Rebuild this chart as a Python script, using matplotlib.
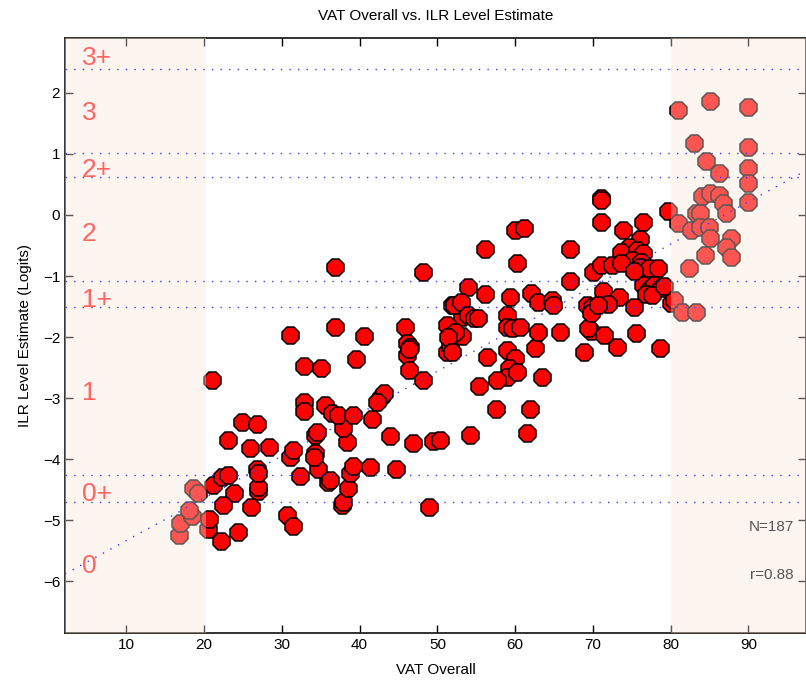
import numpy as np
import matplotlib
matplotlib.use('Agg')
import matplotlib.pyplot as plt

plt.rcParams['font.family'] = ['Liberation Sans Narrow', 'Liberation Sans', 'DejaVu Sans']

# VAT overall score vs ILR level estimate (logits)
vat_overall = [
    # below 20 (shaded)
    16.8, 16.9, 18.5, 18.0, 18.6, 19.2,
    # 20-30
    21.0, 21.2, 22.3, 23.1, 23.8, 22.5, 20.5, 20.6, 22.2, 24.4, 23.1, 24.9, 26.8,
    25.9, 28.4, 26.8, 27.0, 27.0, 26.1, 27.0,
    # 30-40
    30.7, 31.5, 31.1, 31.5, 34.3, 32.4, 34.7, 36.0, 36.2, 37.8, 37.9, 38.5, 38.8,
    39.1, 38.4, 37.9, 34.3, 34.5, 34.1, 32.8, 32.8, 35.6, 36.5, 37.2, 39.1, 32.9,
    35.0, 39.6, 31.1, 36.9, 36.9,
    # 40-50
    40.6, 42.7, 43.1, 42.3, 41.6, 43.9, 46.9, 49.4, 41.4, 44.7, 48.9, 45.9, 46.1,
    46.5, 46.1, 46.3, 48.1, 48.1, 46.4,
    # 50-60
    51.3, 51.6, 52.3, 53.2, 51.9, 53.2, 53.9, 52.1, 53.0, 53.9, 54.7, 55.2, 51.3,
    52.3, 51.4, 51.9, 56.4, 59.0, 60.0, 59.2, 59.0, 60.3, 57.7, 55.3, 57.5, 54.2,
    50.4, 56.1, 56.1, 59.4, 59.0, 59.0, 59.6, 60.6, 60.0, 60.2, 61.1,
    # 60-70
    61.9, 61.5, 63.5, 62.6, 63.0, 65.8, 62.1, 62.9, 64.7, 64.9, 67.0, 67.0, 69.3,
    69.7, 68.8, 69.4, 69.9, 69.7,
    # 70-80
    71.0, 71.0, 71.0, 73.9, 76.4, 79.7, 76.0, 74.6, 73.6, 75.7, 76.5, 75.0, 76.2,
    76.1, 77.2, 78.4, 70.0, 71.0, 72.5, 73.6, 71.3, 73.3, 75.3, 76.4, 77.2, 77.8,
    78.7, 76.8, 80.0, 71.4, 73.1, 75.5, 78.6, 75.3, 77.6, 79.2, 72.0, 70.6,
    # above 80 (shaded)
    81.0, 85.0, 89.9, 83.0, 89.9, 84.6, 86.2, 89.9, 89.9, 89.9, 84.0, 85.1, 86.2,
    86.7, 87.1, 83.2, 83.8, 81.0, 82.6, 83.8, 84.9, 85.1, 87.7, 87.1, 87.7, 84.4,
    82.3, 80.4, 81.5, 83.2,
]
ilr_logits = [
    -5.24, -5.04, -4.94, -4.83, -4.47, -4.55,
    -2.70, -4.42, -4.30, -4.26, -4.55, -4.76, -5.15, -4.98, -5.34, -5.20, -3.68, -3.40, -3.42,
    -3.82, -3.80, -4.17, -4.53, -4.45, -4.78, -4.22,
    -4.91, -5.10, -3.96, -3.85, -3.90, -4.28, -4.17, -4.37, -4.34, -4.75, -4.70, -4.47, -4.22,
    -4.12, -3.72, -3.49, -3.60, -3.55, -3.96, -3.06, -3.22, -3.12, -3.25, -3.27, -3.27, -2.48,
    -2.51, -2.36, -1.96, -1.83, -0.85,
    -1.98, -2.98, -2.92, -3.06, -3.34, -3.63, -3.73, -3.70, -4.13, -4.16, -4.78, -1.83, -2.10,
    -2.16, -2.29, -2.54, -2.70, -0.93, -2.20,
    -2.24, -2.14, -1.99, -1.99, -1.47, -1.67, -1.18, -1.47, -1.42, -1.64, -1.69, -1.69, -1.80,
    -1.91, -2.00, -2.24, -2.32, -2.21, -2.34, -2.50, -2.65, -2.57, -2.70, -2.81, -3.18, -3.60,
    -3.68, -0.56, -1.29, -1.35, -1.64, -1.83, -1.85, -1.83, -0.25, -0.79, -0.21,
    -3.18, -3.57, -2.65, -2.18, -1.91, -1.91, -1.28, -1.42, -1.39, -1.47, -0.56, -1.08, -1.47,
    -1.90, -2.24, -1.85, -1.50, -1.60,
    0.28, 0.25, -0.11, -0.25, -0.11, 0.07, -0.39, -0.52, -0.61, -0.57, -0.62, -0.74, -0.77,
    -0.85, -0.87, -0.87, -0.93, -0.82, -0.82, -0.79, -1.24, -1.34, -1.50, -1.15, -1.23, -1.15,
    -1.19, -1.30, -1.44, -1.96, -2.16, -1.93, -2.18, -0.91, -1.31, -1.16, -1.46, -1.48,
    1.72, 1.87, 1.77, 1.18, 1.11, 0.88, 0.69, 0.77, 0.52, 0.21, 0.31, 0.36, 0.33,
    0.20, 0.03, 0.03, 0.03, -0.13, -0.25, -0.20, -0.20, -0.38, -0.38, -0.52, -0.69, -0.66,
    -0.87, -1.39, -1.59, -1.59,
]

# ILR level boundaries and labels
band_lines = [2.385, 1.02, 0.63, -1.09, -1.50, -4.26, -4.71]
level_labels = ['3+', '3', '2+', '2', '1+', '1', '0+', '0']
level_label_y = [2.57, 1.67, 0.74, -0.31, -1.39, -2.91, -4.58, -5.76]

fit_slope = 0.0694
fit_intercept = -6.03

xmin, xmax = 2.12, 97.4
ymin, ymax = -6.85, 2.9

fig = plt.figure(figsize=(8.06, 6.92), dpi=100)
ax = fig.add_axes([65 / 806, 59 / 692, 741 / 806, 595 / 692])

ax.scatter(vat_overall, ilr_logits, s=175, marker='8', facecolor='#ff0000',
           edgecolor='black', linewidth=1.1, zorder=2)

# shaded out-of-range zones sit over the points
shade = (250 / 255, 229 / 255, 216 / 255)
ax.axvspan(xmin, 20.2, color=shade, alpha=0.38, lw=0, zorder=3)
ax.axvspan(80.0, xmax, color=shade, alpha=0.38, lw=0, zorder=3)

dots = (0, (1, 5.2))
for yl in band_lines:
    ax.axhline(yl, color='#3a3aff', lw=1, linestyle=dots, zorder=4)
xs = np.array([xmin, xmax])
ax.plot(xs, fit_slope * xs + fit_intercept, color='#3a3aff', lw=1, linestyle=dots, zorder=4)

for lab, yy in zip(level_labels, level_label_y):
    ax.text(4.3, yy, lab, color='#ff6464', fontsize=19, ha='left', va='center', zorder=5)

ax.text(95.8, -5.12, 'N=187', color='#555555', fontsize=11, ha='right', va='center', zorder=5)
ax.text(95.8, -5.90, 'r=0.88', color='#555555', fontsize=11, ha='right', va='center', zorder=5)

ax.set_xlim(xmin, xmax)
ax.set_ylim(ymin, ymax)
ax.set_xticks(range(10, 100, 10))
ax.set_yticks(range(-6, 3))
ax.tick_params(direction='in', top=True, right=True, length=6, width=1, labelsize=11)
for sp in ax.spines.values():
    sp.set_linewidth(1.3)
    sp.set_color('#222222')

ax.set_title('VAT Overall vs. ILR Level Estimate', fontsize=11, pad=13)
ax.set_xlabel('VAT Overall', fontsize=11, labelpad=8)
ax.set_ylabel('ILR Level Estimate (Logits)', fontsize=11, labelpad=8)

fig.savefig('out.png', dpi=100)
